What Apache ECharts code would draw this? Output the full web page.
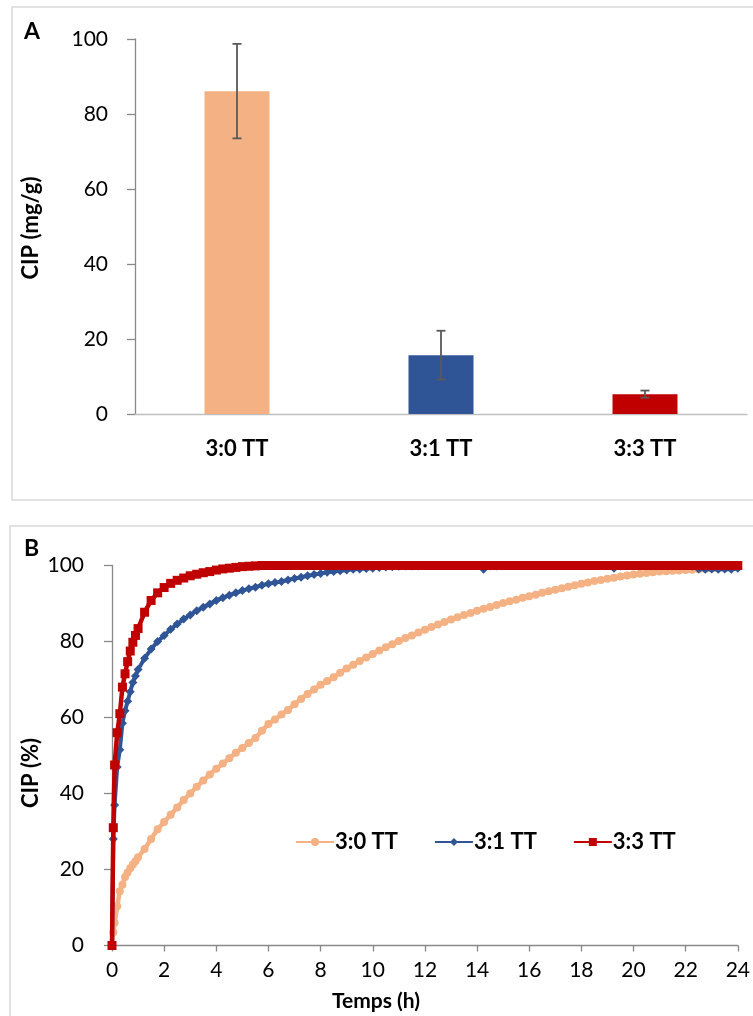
<!DOCTYPE html>
<html>
<head>
<meta charset="utf-8">
<script src="https://cdn.jsdelivr.net/npm/echarts@6/dist/echarts.min.js"></script>
<style>
html,body{margin:0;padding:0;background:#fff;}
#chart{width:753px;height:1016px;}
</style>
</head>
<body>
<div id="chart"></div>
<script>
// ---------- Panel A data ----------
const barCategories = ['3:0 TT', '3:1 TT', '3:3 TT'];
const barValues = [86.1, 15.7, 5.3];
const barErrors = [12.6, 6.5, 0.95];
const barColors = ['#F4B183', '#2F5597', '#C00000'];
const yTicksA = { min: 0, max: 100, interval: 20 };

// ---------- Panel B data ----------
const seriesNames = ['3:0 TT', '3:1 TT', '3:3 TT'];
const times = [0, 0.05, 0.1, 0.2, 0.3, 0.4, 0.5, 0.6, 0.7, 0.8, 0.9, 1.0,
  1.25, 1.5, 1.75, 2.0, 2.25, 2.5, 2.75, 3.0, 3.25, 3.5, 3.75, 4.0,
  4.25, 4.5, 4.75, 5.0, 5.25, 5.5, 5.75, 6.0, 6.25, 6.5, 6.75, 7.0,
  7.25, 7.5, 7.75, 8.0, 8.25, 8.5, 8.75, 9.0, 9.25, 9.5, 9.75, 10.0,
  10.25, 10.5, 10.75, 11.0, 11.25, 11.5, 11.75, 12.0, 12.25, 12.5, 12.75, 13.0,
  13.25, 13.5, 13.75, 14.0, 14.25, 14.5, 14.75, 15.0, 15.25, 15.5, 15.75, 16.0,
  16.25, 16.5, 16.75, 17.0, 17.25, 17.5, 17.75, 18.0, 18.25, 18.5, 18.75, 19.0,
  19.25, 19.5, 19.75, 20.0, 20.25, 20.5, 20.75, 21.0, 21.25, 21.5, 21.75, 22.0,
  22.25, 22.5, 22.75, 23.0, 23.25, 23.5, 23.75, 24.0];
const tt30 = [0, 3.5, 6, 10.3, 14.3, 16, 18, 19.2, 20.3, 21.3, 22.2, 23.2,
  25.4, 28, 30.6, 32.5, 34.4, 36.3, 38.3, 40, 41.8, 43.4, 45, 46.5,
  47.9, 49.3, 50.7, 52.0, 53.3, 54.6, 56.5, 58.3, 59.5, 60.8, 62, 63.5,
  64.9, 66.2, 67.4, 68.6, 69.6, 70.6, 71.8, 72.9, 73.9, 74.9, 75.8, 76.7,
  77.6, 78.5, 79.3, 80.1, 80.9, 81.6, 82.4, 83.1, 83.8, 84.5, 85.1, 85.8,
  86.4, 87.0, 87.5, 88.1, 88.6, 89.1, 89.6, 90.1, 90.6, 91.0, 91.5, 91.9,
  92.3, 92.8, 93.2, 93.6, 94.0, 94.4, 94.8, 95.2, 95.5, 95.9, 96.2, 96.5,
  96.8, 97.1, 97.4, 97.6, 97.8, 98.0, 98.2, 98.4, 98.5, 98.6, 98.7, 98.8,
  98.9, 99.0, 99.1, 99.2, 99.3, 99.4, 99.5, 99.6];
const tt31 = [0, 28, 37, 47, 51.5, 58.5, 61.8, 64.3, 66.8, 69.2, 70.9, 72.6,
  75.6, 78.0, 80.0, 81.6, 83.2, 84.6, 85.9, 87.0, 88.1, 89.0, 89.9, 90.8,
  91.5, 92.2, 92.8, 93.4, 93.9, 94.3, 94.8, 95.2, 95.5, 95.8, 96.2, 96.6,
  96.9, 97.3, 97.6, 97.9, 98.2, 98.4, 98.6, 98.8, 99.0, 99.1, 99.2, 99.3,
  99.5, 99.6, 99.7, 99.8, 99.9, 99.9, 99.9, 100, 100, 100, 100, 100,
  100, 100, 100, 100, 99.0, 99.9, 99.9, 100, 100, 100, 100, 100,
  100, 100, 100, 100, 100, 100, 100, 100, 100, 100, 100, 100,
  99.3, 99.9, 100, 100, 100, 100, 100, 100, 100, 100, 100, 100,
  99.9, 99.1, 99.0, 99.1, 99.0, 99.1, 99.0, 99.3];
const tt33 = [0, 31, 47.5, 56, 61, 68, 71.5, 74.7, 77.5, 79.8, 81.6, 83.4,
  87.7, 90.8, 92.8, 94.2, 95.3, 96.1, 96.7, 97.3, 97.7, 98.1, 98.4, 98.8,
  99.1, 99.3, 99.5, 99.7, 99.8, 99.9, 100, 100, 100, 100, 100, 100,
  100, 100, 100, 100, 100, 100, 100, 100, 100, 100, 100, 100,
  100, 100, 100, 100, 100, 100, 100, 100, 100, 100, 100, 100,
  100, 100, 100, 100, 100, 100, 100, 100, 100, 100, 100, 100,
  100, 100, 100, 100, 100, 100, 100, 100, 100, 100, 100, 100,
  100, 100, 100, 100, 100, 100, 100, 100, 100, 100, 100, 100,
  100, 100, 100, 100, 100, 100, 100, 100];
const lineColors = ['#F4B183', '#2F5597', '#C00000'];
const lineSymbols = ['circle', 'diamond', 'rect'];
const lineSymbolSizes = [8, 9, 9];
const lineWidths = [4.5, 4, 4.5];
const xTicksB = { min: 0, max: 24, interval: 2 };
const yTicksB = { min: 0, max: 100, interval: 20 };

const FONT = 'Lato, "Open Sans", sans-serif';
const chart = echarts.init(document.getElementById('chart'), null, { renderer: 'canvas' });

const lineData = [tt30, tt31, tt33].map(vals => times.map((t, i) => [t, vals[i]]));
const errData = barValues.map((v, i) => [i, v - barErrors[i], v + barErrors[i]]);

const axisLineStyle = { color: '#898989', width: 1.3 };

const option = {
  animation: false,
  backgroundColor: '#ffffff',
  graphic: [
    { type: 'rect', shape: { x: 12, y: 7, width: 760, height: 493 },
      style: { fill: 'none', stroke: '#D9D9D9', lineWidth: 1.5 }, z: -1 },
    { type: 'rect', shape: { x: 10, y: 526, width: 760, height: 520 },
      style: { fill: 'none', stroke: '#D9D9D9', lineWidth: 1.5 }, z: -1 },
    { type: 'text', left: 24, top: 20, style: { text: 'A', font: 'bold 23px ' + FONT, fill: '#000' } },
    { type: 'text', left: 24, top: 537, style: { text: 'B', font: 'bold 23px ' + FONT, fill: '#000' } },
    { type: 'text', x: 31, y: 228, rotation: Math.PI / 2,
      style: { text: 'CIP (mg/g)', font: 'bold 22px ' + FONT, fill: '#000', align: 'center', verticalAlign: 'middle' } },
    { type: 'text', x: 31, y: 773, rotation: Math.PI / 2,
      style: { text: 'CIP (%)', font: 'bold 22px ' + FONT, fill: '#000', align: 'center', verticalAlign: 'middle' } },
    { type: 'text', x: 376, y: 1001,
      style: { text: 'Temps (h)', font: 'bold 21px ' + FONT, fill: '#000', align: 'center', verticalAlign: 'middle' } }
  ],
  legend: {
    data: seriesNames,
    left: 290, top: 826,
    itemWidth: 38, itemHeight: 10, itemGap: 36,
    textStyle: { fontFamily: FONT, fontWeight: 'bold', fontSize: 22, color: '#000', padding: [0, 0, 0, -4] }
  },
  grid: [
    { left: 135, top: 39, width: 612, height: 375 },
    { left: 112, top: 565.5, width: 627, height: 380 }
  ],
  xAxis: [
    { type: 'category', gridIndex: 0, data: barCategories,
      axisLine: { lineStyle: { color: '#BFBFBF', width: 1.3 } },
      axisTick: { show: false },
      axisLabel: { fontFamily: FONT, fontWeight: 'bold', fontSize: 22, color: '#000', margin: 24 } },
    { type: 'value', gridIndex: 1, min: xTicksB.min, max: xTicksB.max, interval: xTicksB.interval,
      splitLine: { show: false },
      axisLine: { onZero: false, lineStyle: axisLineStyle },
      axisTick: { show: true, length: 6, lineStyle: axisLineStyle },
      axisLabel: { fontFamily: FONT, fontSize: 21, color: '#000', margin: 14 } }
  ],
  yAxis: [
    { type: 'value', gridIndex: 0, min: yTicksA.min, max: yTicksA.max, interval: yTicksA.interval,
      splitLine: { show: false },
      axisLine: { show: true, lineStyle: axisLineStyle },
      axisTick: { show: true, length: 8, lineStyle: axisLineStyle },
      axisLabel: { fontFamily: FONT, fontSize: 21, color: '#000', margin: 27 } },
    { type: 'value', gridIndex: 1, min: yTicksB.min, max: yTicksB.max, interval: yTicksB.interval,
      splitLine: { show: false },
      axisLine: { show: true, onZero: false, lineStyle: axisLineStyle },
      axisTick: { show: true, length: 8, lineStyle: axisLineStyle },
      axisLabel: { fontFamily: FONT, fontSize: 21, color: '#000', margin: 28 } }
  ],
  series: [
    { type: 'bar', xAxisIndex: 0, yAxisIndex: 0, barWidth: 65,
      data: barValues.map((v, i) => ({ value: v, itemStyle: { color: barColors[i] } })) },
    { type: 'custom', xAxisIndex: 0, yAxisIndex: 0, data: errData, z: 5,
      renderItem: function (params, api) {
        const x = api.value(0);
        const lo = api.coord([x, api.value(1)]);
        const hi = api.coord([x, api.value(2)]);
        const hw = 4.5;
        const st = { stroke: '#595959', lineWidth: 1.8 };
        return { type: 'group', children: [
          { type: 'line', shape: { x1: lo[0], y1: lo[1], x2: hi[0], y2: hi[1] }, style: st },
          { type: 'line', shape: { x1: lo[0] - hw, y1: lo[1], x2: lo[0] + hw, y2: lo[1] }, style: st },
          { type: 'line', shape: { x1: hi[0] - hw, y1: hi[1], x2: hi[0] + hw, y2: hi[1] }, style: st }
        ]};
      } }
  ].concat(seriesNames.map((name, k) => ({
    name: name, type: 'line', xAxisIndex: 1, yAxisIndex: 1,
    data: lineData[k],
    symbol: lineSymbols[k], symbolSize: lineSymbolSizes[k], showAllSymbol: true,
    itemStyle: { color: lineColors[k] },
    lineStyle: { color: lineColors[k], width: lineWidths[k] },
    z: 10 + k
  })))
};
chart.setOption(option);
</script>
</body>
</html>
